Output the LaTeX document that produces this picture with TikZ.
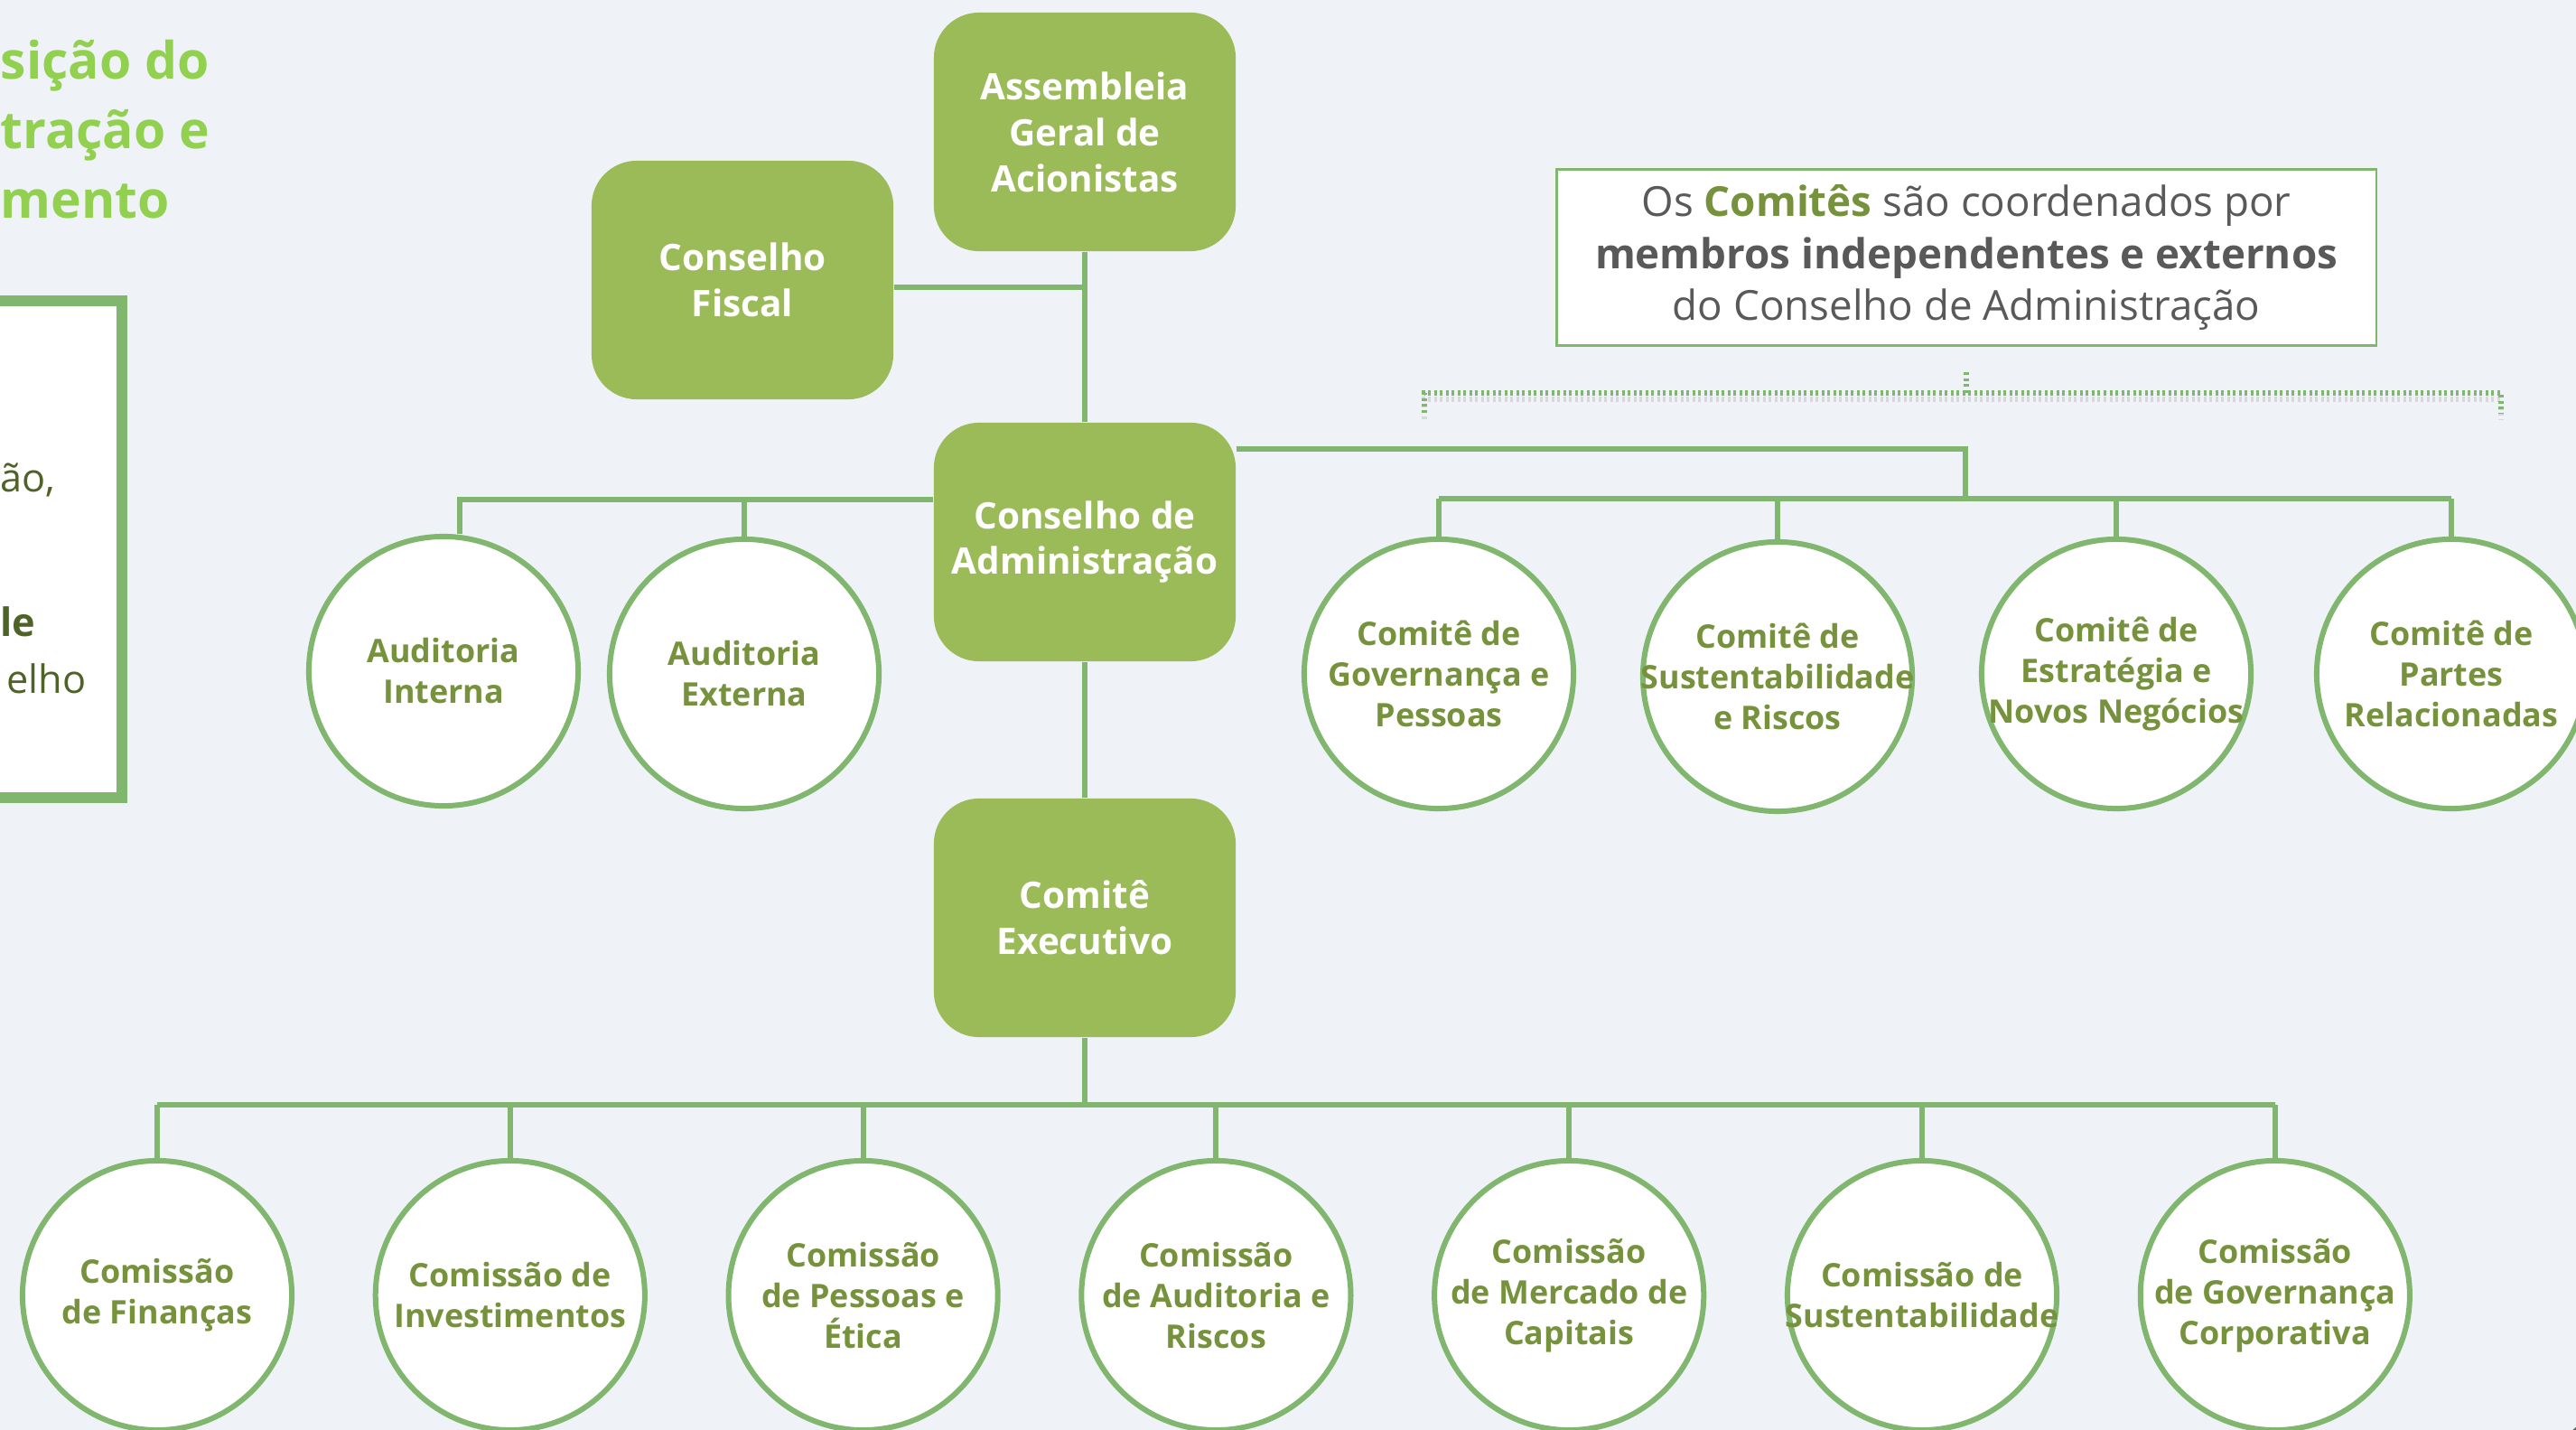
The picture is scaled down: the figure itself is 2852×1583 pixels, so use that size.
\documentclass[tikz,border=0pt]{standalone}
\usepackage{fontspec}
\setmainfont{Open Sans}
\definecolor{fundo}{RGB}{239,243,247}
\definecolor{oliva}{RGB}{155,187,89}
\definecolor{verdelinha}{RGB}{129,182,111}
\definecolor{verdetexto}{RGB}{118,146,60}
\definecolor{verdetitulo}{RGB}{146,208,80}
\definecolor{olivaescuro}{RGB}{79,98,40}
\definecolor{cinzanota}{RGB}{89,89,89}

\begin{document}
\begin{tikzpicture}[x=0.01cm,y=-0.01cm,
    orgao/.style={fill=oliva,rounded corners=0.5cm,minimum width=3.34cm,minimum height=2.64cm,
      text=white,font=\fontsize{11.5}{14.5}\selectfont\bfseries,align=center,inner sep=0pt},
    comite/.style={circle,draw=verdelinha,line width=0.06cm,fill=white,minimum size=2.98cm,
      text=verdetexto,font=\fontsize{10.2}{12.8}\selectfont\bfseries,align=center,inner sep=-0.6cm},
    titulo/.style={anchor=base west,inner sep=0pt,text=verdetitulo,font=\fontsize{16.2}{21.9}\selectfont\bfseries},
    corpo/.style={anchor=base west,inner sep=0pt,text=olivaescuro,font=\fontsize{12.3}{14}\selectfont},
    ligacao/.style={draw=verdelinha,line width=0.06cm},
    chave/.style={draw=verdelinha,line width=0.06cm,dash pattern=on 0.03cm off 0.035cm}]
  \useasboundingbox (0,0) rectangle (2852,1583);
  \clip (0,0) rectangle (2852,1583);
  \fill[fundo] (0,0) rectangle (2852,1583);

  % titulo e caixa da esquerda
  \node[titulo] (t1) at (0,88) {sição do};
  \node[titulo] (t2) at (0,165) {tração e};
  \node[titulo] (t3) at (0,242) {mento};
  \draw[verdelinha,line width=0.12cm,fill=white] (-50,333) rectangle (135,883);
  \node[corpo] (l1) at (0,545) {ão,};
  \node[corpo,font=\fontsize{12.3}{14}\selectfont\bfseries] (l2) at (0,705) {le};
  \node[corpo,anchor=base east] (l3) at (96,768) {elho};

  % nota
  \node[draw=verdelinha,line width=0.025cm,fill=white,minimum width=9.07cm,minimum height=1.95cm,
    align=center,text=cinzanota,font=\fontsize{13}{16.4}\selectfont] (nota) at (2177,285)
    {\rule{0pt}{0.12cm}Os {\bfseries\color{verdetexto}Comitês} são coordenados por\\
     {\bfseries membros independentes e externos}\\
     do Conselho de Administração};
  \coordinate (ch) at (2177,435);
  \begin{scope}[shift={(0,7)}]
    \draw[chave,draw=gray!50,opacity=0.5] (1577,457) -- (1577,435) -- (2769,435) -- (2769,457);
  \end{scope}
  \draw[chave] (1577,457) -- (1577,435) -- (2769,435) -- (2769,457);
  \draw[chave] (ch) -- ++(0,-25);

  % orgaos
  \node[orgao] (asm) at (1201,146) {Assembleia\\Geral de\\Acionistas};
  \node[orgao] (fis) at (822,310) {Conselho\\Fiscal};
  \node[orgao] (cad) at (1201,600) {Conselho de\\Administração};
  \node[orgao] (exe) at (1201,1016) {Comitê\\Executivo};

  \node[comite] (ai) at (491,743) {Auditoria\\Interna};
  \node[comite] (ae) at (824,746) {Auditoria\\Externa};
  \node[comite] (cgp) at (1593,746) {Comitê de\\Governança e\\Pessoas};
  \node[comite] (csr) at (1968,749) {Comitê de\\Sustentabilidade\\e Riscos};
  \node[comite] (cen) at (2343,746) {Comitê de\\Estratégia e\\Novos Negócios};
  \node[comite] (cpr) at (2714,746) {Comitê de\\Partes\\Relacionadas};

  \foreach \nome [count=\i from 0] in {{Comissão\\de Finanças},{Comissão de\\Investimentos},
      {Comissão\\de Pessoas e\\Ética},{Comissão\\de Auditoria e\\Riscos},{Comissão\\de Mercado de\\Capitais},
      {Comissão de\\Sustentabilidade},{Comissão\\de Governança\\Corporativa}}
    \node[comite] (cm\i) at (174+390.8*\i,1434) {\nome};

  % ligacoes
  \draw[ligacao] (asm.south) -- (cad.north);
  \draw[ligacao] ([yshift=-0.08cm]fis.east) -- ([yshift=-0.08cm]fis.east -| asm.south);
  \draw[ligacao] (cad.south) -- (exe.north);
  \draw[ligacao] ([yshift=0.47cm]cad.west) -| ([xshift=0.18cm]ai.north);
  \draw[ligacao] ([yshift=0.47cm]cad.west -| ae.north) -- (ae.north);
  \coordinate (barra) at (2176,552);
  \draw[ligacao] ([yshift=1.03cm]cad.east) -| (barra);
  \draw[ligacao] (barra -| cgp.north) -- (barra -| cpr.north);
  \foreach \c in {cgp,csr,cen,cpr}
    \draw[ligacao] (barra -| \c.north) -- (\c.north);
  \coordinate (base) at (1201,1223);
  \draw[ligacao] (exe.south) -- (base);
  \draw[ligacao] (base -| cm0.north) -- (base -| cm6.north);
  \foreach \i in {0,...,6}
    \draw[ligacao] (base -| cm\i.north) -- (cm\i.north);

  \fill[gray!80!black] (2880,1615) circle (0.45cm);
\end{tikzpicture}
\end{document}
